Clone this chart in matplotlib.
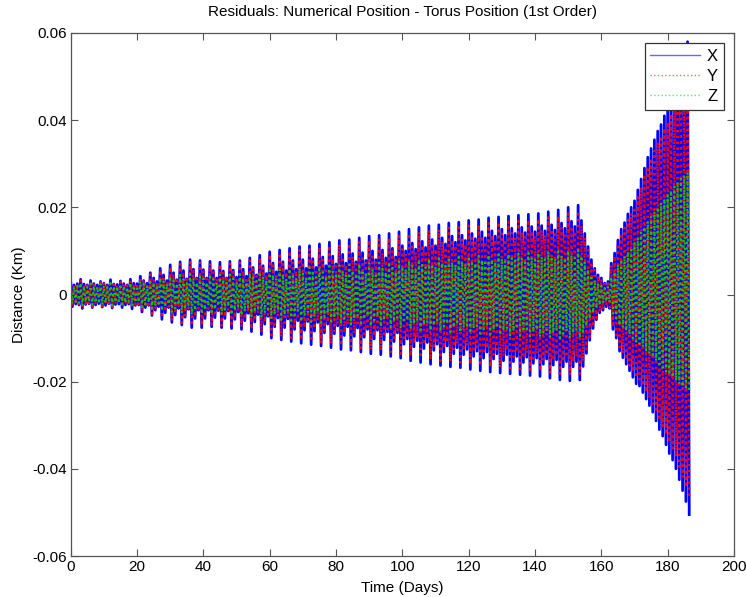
import numpy as np
import matplotlib
matplotlib.use("Agg")
import matplotlib.pyplot as plt

plt.rcParams['font.family'] = ['Liberation Sans', 'DejaVu Sans']

# daily swing of each residual (units of 1e-4 km)
# *_hi = top of the swing on that day, *_lo = depth of the swing below zero
x_hi = [
    30, 22, 25, 35, 24, 22, 32, 25, 22, 30, 26, 22, 34, 24, 23, 31, 25, 22, 35, 26,
    25, 42, 32, 26, 50, 38, 30, 60, 45, 32, 68, 50, 34, 75, 55, 36, 80, 58, 38, 78,
    57, 38, 76, 55, 38, 74, 54, 38, 76, 56, 40, 78, 58, 42, 84, 62, 45, 90, 66, 48,
    98, 72, 52, 102, 75, 55, 106, 78, 58, 110, 80, 60, 112, 82, 62, 116, 86, 66, 120, 88,
    70, 124, 92, 72, 126, 94, 75, 130, 96, 78, 134, 100, 80, 136, 102, 84, 140, 106, 86, 144,
    112, 100, 150, 118, 104, 154, 122, 108, 158, 126, 112, 160, 130, 116, 164, 134, 120, 166, 136, 124,
    170, 140, 128, 172, 144, 130, 176, 146, 134, 178, 150, 136, 180, 152, 140, 182, 154, 142, 184, 156,
    144, 186, 158, 146, 190, 160, 148, 194, 164, 152, 200, 168, 156, 205, 170, 140, 110, 80, 60, 45,
    38, 26, 30, 72, 95, 125, 150, 165, 185, 200, 215, 240, 265, 290, 315, 335, 355, 375, 390, 410,
    425, 445, 465, 490, 520, 550, 580]
x_lo = [
    28, 22, 24, 32, 23, 21, 30, 24, 21, 29, 25, 21, 31, 23, 22, 30, 24, 22, 33, 25,
    24, 40, 30, 25, 48, 36, 28, 57, 42, 30, 64, 47, 32, 70, 52, 34, 76, 55, 36, 76,
    55, 36, 74, 53, 37, 76, 55, 38, 78, 57, 40, 80, 60, 43, 85, 63, 46, 92, 68, 50,
    100, 74, 54, 104, 76, 56, 108, 80, 60, 112, 82, 62, 115, 84, 64, 118, 88, 68, 122, 90,
    72, 126, 94, 74, 128, 96, 77, 132, 98, 80, 136, 102, 82, 138, 104, 86, 142, 108, 88, 146,
    114, 102, 152, 120, 106, 156, 124, 110, 160, 128, 114, 163, 132, 118, 166, 136, 122, 168, 138, 126,
    172, 142, 130, 175, 146, 132, 178, 148, 136, 180, 152, 138, 182, 154, 142, 184, 156, 144, 186, 158,
    146, 188, 160, 148, 192, 162, 150, 196, 166, 154, 198, 166, 154, 196, 165, 135, 105, 78, 58, 42,
    36, 28, 32, 80, 100, 130, 145, 160, 175, 190, 205, 210, 225, 240, 255, 270, 290, 310, 325, 345,
    365, 380, 400, 425, 450, 475, 505]

y_hi = [
    27, 21, 24, 32, 23, 21, 29, 24, 21, 28, 25, 21, 31, 23, 22, 29, 24, 21, 32, 25,
    24, 39, 30, 25, 46, 35, 28, 56, 42, 30, 63, 47, 32, 70, 51, 34, 74, 54, 36, 73,
    53, 36, 71, 51, 36, 69, 50, 36, 71, 52, 37, 73, 54, 39, 78, 58, 42, 84, 61, 45,
    91, 67, 48, 95, 70, 51, 99, 73, 54, 102, 74, 56, 104, 76, 58, 108, 80, 61, 112, 82,
    65, 115, 86, 67, 117, 87, 70, 121, 89, 73, 125, 93, 74, 126, 95, 78, 130, 99, 80, 134,
    104, 93, 140, 110, 97, 143, 113, 100, 147, 117, 104, 149, 121, 108, 153, 125, 112, 154, 126, 115,
    158, 130, 119, 160, 134, 121, 164, 136, 125, 166, 140, 126, 167, 141, 130, 169, 143, 132, 171, 145,
    134, 173, 147, 136, 177, 149, 138, 180, 153, 141, 186, 156, 145, 191, 158, 130, 102, 74, 56, 42,
    35, 24, 28, 67, 88, 116, 140, 153, 172, 186, 200, 223, 246, 270, 293, 312, 330, 349, 363, 381,
    395, 414, 432, 456, 484, 512, 540]
y_lo = [
    26, 21, 22, 30, 21, 20, 28, 22, 20, 27, 23, 20, 29, 21, 20, 28, 22, 20, 31, 23,
    22, 37, 28, 23, 45, 33, 26, 53, 39, 28, 60, 44, 30, 65, 48, 32, 71, 51, 33, 71,
    51, 33, 69, 49, 34, 71, 51, 35, 73, 53, 37, 74, 56, 40, 79, 59, 43, 86, 63, 47,
    93, 69, 50, 97, 71, 52, 100, 74, 56, 104, 76, 58, 107, 78, 60, 110, 82, 63, 113, 84,
    67, 117, 87, 69, 119, 89, 72, 123, 91, 74, 126, 95, 76, 128, 97, 80, 132, 100, 82, 136,
    106, 95, 141, 112, 99, 145, 115, 102, 149, 119, 106, 152, 123, 110, 154, 126, 113, 156, 128, 117,
    160, 132, 121, 163, 136, 123, 166, 138, 126, 167, 141, 128, 169, 143, 132, 171, 145, 134, 173, 147,
    136, 175, 149, 138, 179, 151, 140, 182, 154, 143, 184, 154, 143, 182, 153, 126, 98, 73, 54, 39,
    33, 26, 30, 74, 93, 121, 135, 149, 163, 177, 191, 195, 209, 223, 237, 251, 270, 288, 302, 321,
    339, 353, 372, 395, 419, 442, 470]

z_hi = [
    22, 17, 20, 27, 19, 17, 25, 20, 17, 24, 20, 17, 26, 19, 18, 24, 20, 17, 27, 20,
    19, 30, 24, 20, 34, 27, 22, 38, 30, 24, 42, 33, 25, 45, 35, 26, 47, 37, 27, 46,
    36, 27, 46, 35, 27, 45, 35, 27, 46, 36, 28, 47, 37, 29, 49, 39, 31, 52, 41, 33,
    55, 44, 35, 57, 46, 36, 59, 47, 38, 61, 48, 39, 62, 50, 40, 64, 51, 42, 66, 53,
    44, 67, 54, 45, 68, 55, 47, 70, 56, 48, 72, 58, 49, 73, 59, 51, 74, 61, 52, 76,
    64, 58, 78, 66, 60, 80, 68, 62, 82, 70, 64, 83, 72, 66, 85, 74, 68, 86, 75, 70,
    88, 77, 72, 89, 79, 73, 91, 80, 75, 92, 82, 76, 93, 83, 78, 94, 84, 79, 95, 85,
    80, 96, 86, 81, 98, 87, 82, 99, 89, 83, 101, 90, 84, 102, 88, 74, 58, 44, 33, 25,
    20, 15, 17, 40, 52, 68, 80, 88, 98, 108, 118, 130, 142, 155, 168, 178, 190, 200, 210, 220,
    228, 238, 248, 258, 265, 272, 280]
z_lo = [
    21, 17, 19, 26, 18, 16, 24, 19, 16, 23, 19, 16, 25, 18, 17, 23, 19, 16, 26, 19,
    18, 29, 23, 19, 33, 26, 21, 37, 29, 23, 40, 32, 24, 43, 34, 25, 46, 36, 26, 45,
    35, 26, 45, 34, 26, 46, 35, 27, 47, 36, 28, 48, 38, 29, 50, 40, 31, 53, 42, 34,
    56, 45, 36, 58, 47, 37, 60, 48, 39, 62, 49, 40, 63, 51, 41, 65, 52, 43, 67, 54,
    45, 68, 55, 46, 69, 56, 48, 71, 57, 49, 73, 59, 50, 74, 60, 52, 75, 62, 53, 77,
    65, 59, 79, 67, 61, 81, 69, 63, 83, 71, 65, 84, 73, 67, 86, 75, 69, 87, 76, 71,
    89, 78, 73, 90, 80, 74, 92, 81, 76, 93, 83, 77, 94, 84, 79, 95, 85, 80, 96, 86,
    81, 97, 87, 82, 99, 88, 83, 100, 90, 84, 100, 89, 83, 99, 86, 72, 56, 42, 31, 24,
    19, 16, 18, 44, 55, 70, 76, 84, 92, 100, 108, 113, 120, 128, 136, 144, 152, 160, 168, 176,
    184, 190, 198, 205, 212, 218, 225]

for lst in (x_hi, x_lo, y_hi, y_lo, z_hi, z_lo):
    assert len(lst) == 187, len(lst)

km = 1e-4
days = np.arange(len(x_hi))


def swing(hi, lo):
    # top of the swing at the start of the day, bottom half a day later
    t = np.column_stack((days, days + 0.5)).ravel()
    v = np.column_stack((np.array(hi), -np.array(lo))).ravel() * km
    return t, v


fig = plt.figure(figsize=(7.46, 5.97), dpi=100)
ax = fig.add_axes([70.7/746, 1-556/597, (734-70.7)/746, (556-33)/597])

t, v = swing(x_hi, x_lo)
ax.plot(t, v, '-', color=(0, 0, 1), lw=2.0, label='X')
t, v = swing(y_hi, y_lo)
ax.plot(t, v, ':', color=(1, 0, 0), lw=1.6, label='Y')
t, v = swing(z_hi, z_lo)
ax.plot(t, v, ':', color=(0, 0.8, 0), lw=1.5, label='Z')

ax.set_xlim(0, 200)
ax.set_ylim(-0.06, 0.06)
ax.set_xticks(np.arange(0, 201, 20))
ax.set_yticks(np.arange(-0.06, 0.061, 0.02))
ax.set_yticklabels(['-0.06', '-0.04', '-0.02', '0', '0.02', '0.04', '0.06'])
ax.tick_params(direction='in', length=5, width=0.8, top=True, right=True,
               labelsize=11, colors='#555555', labelcolor='black', pad=3)
for s in ax.spines.values():
    s.set_color('#555555')
    s.set_linewidth(0.9)

ax.set_title('Residuals: Numerical Position - Torus Position (1st Order)', fontsize=11, pad=12)
ax.set_xlabel('Time (Days)', fontsize=11, labelpad=5)
ax.set_ylabel('Distance (Km)', fontsize=11, labelpad=4)

leg = ax.legend(loc='upper right', fontsize=12, fancybox=False, framealpha=1,
                edgecolor='#333333', handlelength=3.0, borderaxespad=0.6,
                labelspacing=0.3, handletextpad=0.4, borderpad=0.35)
leg.get_frame().set_linewidth(0.9)
for h in leg.get_lines():
    h.set_alpha(0.6)
    h.set_linewidth(1.0)

fig.savefig('out.png', dpi=100)
